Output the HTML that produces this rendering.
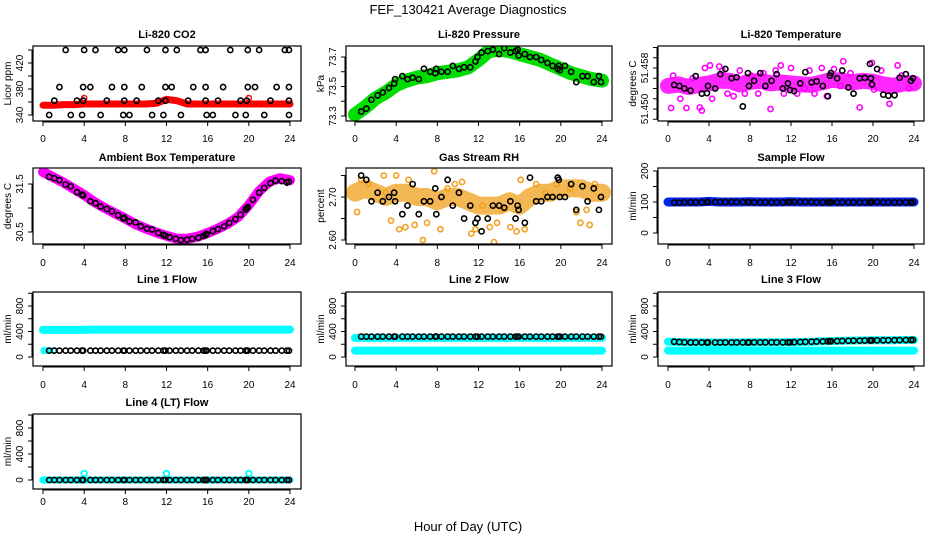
<!DOCTYPE html>
<html><head><meta charset="utf-8"><style>
body{margin:0;background:#fff}
svg{display:block;font-family:"Liberation Sans",Helvetica,Arial,sans-serif}
.tt{font-size:11px;font-weight:bold;text-anchor:middle}
.tk{font-size:10px;text-anchor:middle}
</style></head><body>
<svg id="chart" width="936" height="540" viewBox="0 0 936 540" xmlns="http://www.w3.org/2000/svg">
<rect width="936" height="540" fill="#fff"/>
<text x="468" y="14" font-size="13" text-anchor="middle">FEF_130421  Average Diagnostics</text>
<text x="468" y="531" font-size="13" text-anchor="middle">Hour of Day (UTC)</text>
</svg>
<script>
// ---- data ----
const xTicks = [0,4,8,12,16,20,24];
const T = [0.6,1.1,1.6,2.2,2.7,3.3,3.8,3.9,4.6,5.1,5.6,6.2,6.7,7.3,7.8,7.9,8.4,9.0,9.5,10.1,10.6,11.2,11.7,11.9,12.3,12.9,13.4,14.0,14.5,15.1,15.6,15.8,15.9,16.5,17.0,17.6,18.1,18.7,19.2,19.7,19.8,19.9,20.4,21.0,21.5,22.1,22.6,23.2,23.7,23.9];
const BT = [0,1,2,3,4,5,6,7,8,9,10,11,12,13,14,15,16,17,18,19,20,21,22,23,24];

const co2BlackT = [2.2,4,5.1,7.3,7.9,10.1,11.9,13,15.3,15.8,18.2,19.9,21,23.5,23.9, 1.6,3.9,4.6,6.7,7.9,9.6,11.9,12.5,14.6,15.8,17.5,19.9,20.6,22.7,23.9, 1.1,3.3,3.9,6.2,7.9,9.1,11.2,11.9,14.1,15.8,17,19.2,19.8,22.1,23.9, 0.6,2.7,3.8,5.6,7.8,8.4,10.6,11.7,13.4,15.9,16.5,18.7,19.7,21.5,23.9];
const co2BlackV = [440,440,440,440,440,440,440,440,440,440,440,440,440,440,440, 383,383,383,383,383,383,383,383,383,383,383,383,383,383,383, 362,362,362,362,362,362,362,362,362,362,362,362,362,362,362, 340,340,340,340,340,340,340,340,340,340,340,340,340,340,340];
const co2Band = [355,355,356,356,357,357,357,357,357,357,357,358,364,362,357,357,357,357,357,357,357,357,357,357,357];
const co2RedT = [4.0,20.0];
const co2RedV = [366,366];

const presBand = [73.31,73.36,73.42,73.46,73.51,73.54,73.56,73.57,73.59,73.6,73.61,73.63,73.68,73.74,73.75,73.74,73.72,73.7,73.68,73.65,73.62,73.59,73.57,73.55,73.54];
const presBlack = [73.33,73.35,73.41,73.44,73.46,73.49,73.52,73.55,73.57,73.55,73.56,73.55,73.62,73.6,73.59,73.62,73.6,73.6,73.64,73.62,73.63,73.63,73.67,73.7,73.73,73.74,73.75,73.72,73.76,73.73,73.74,73.75,73.71,73.72,73.7,73.7,73.68,73.66,73.64,73.62,73.64,73.61,73.64,73.6,73.53,73.57,73.57,73.53,73.57,73.53];

const tempBand = [51.4545,51.4548,51.4543,51.4547,51.4550,51.4555,51.4555,51.4548,51.4553,51.4555,51.4550,51.4552,51.4550,51.4548,51.4547,51.4552,51.4557,51.4555,51.4552,51.4555,51.4553,51.4548,51.4545,51.4550,51.4550];
const tempMagT = [0.3,0.5,1.2,1.8,2.4,3.1,3.3,3.6,4.1,4.3,5.0,5.3,5.8,6.4,7.0,7.5,8.1,8.8,9.3,10.0,10.5,11.0,11.3,12.0,12.6,13.3,13.8,14.3,15.0,15.5,16.2,16.8,17.1,17.8,18.7,19.3,19.9,20.1,20.8,21.6,22.4,22.8,23.5];
const tempMagV = [51.4502,51.4565,51.4520,51.4502,51.4560,51.4503,51.4497,51.4580,51.4585,51.4520,51.4583,51.4575,51.4530,51.4525,51.4575,51.4530,51.4565,51.4530,51.4570,51.4500,51.4575,51.4585,51.4530,51.4580,51.4530,51.4540,51.4575,51.4530,51.4580,51.4525,51.4578,51.4545,51.4593,51.4570,51.4503,51.4560,51.4590,51.4538,51.4575,51.4510,51.4585,51.4565,51.4540];
const tempBlack = [51.4547,51.4545,51.4540,51.4536,51.4564,51.4530,51.4531,51.4545,51.4540,51.4568,51.4578,51.4560,51.4562,51.4505,51.4570,51.4545,51.4555,51.4570,51.4545,51.4555,51.4568,51.4540,51.4550,51.4537,51.4535,51.4550,51.4572,51.4552,51.4554,51.4545,51.4525,51.4565,51.4570,51.4560,51.4575,51.4542,51.4530,51.4560,51.4561,51.4588,51.4560,51.4548,51.4578,51.4528,51.4526,51.4527,51.4561,51.4568,51.4555,51.4560];

const ambBand = [31.75,31.64,31.53,31.40,31.27,31.12,31.00,30.89,30.78,30.66,30.57,30.49,30.42,30.36,30.36,30.40,30.48,30.57,30.68,30.82,31.06,31.35,31.55,31.62,31.58];
const ambBlack = [31.65,31.62,31.58,31.49,31.45,31.33,31.28,31.26,31.14,31.10,31.03,30.98,30.93,30.85,30.78,30.8,30.72,30.7,30.62,30.57,30.55,30.48,30.44,30.42,30.39,30.36,30.33,30.34,30.36,30.38,30.42,30.44,30.46,30.52,30.56,30.62,30.69,30.77,30.86,30.97,31.0,31.02,31.17,31.32,31.42,31.52,31.57,31.56,31.53,31.55];

const rhBand = [2.71,2.72,2.71,2.70,2.71,2.71,2.70,2.70,2.69,2.70,2.70,2.69,2.68,2.68,2.68,2.69,2.68,2.70,2.71,2.71,2.72,2.72,2.72,2.71,2.71];
const rhOrT = [0.2,0.6,0.9,1.3,2.2,2.8,3.0,3.5,4.0,4.3,4.9,5.2,5.8,6.6,7.0,7.7,8.3,9.0,9.7,10.4,11.3,11.7,12.4,13.1,13.5,13.8,14.3,15.1,15.7,16.1,16.5,17.6,18.5,19.6,20.9,21.5,21.9,22.5,22.8,23.1,23.3];
const rhOrV = [2.665,2.74,2.78,2.73,2.78,2.75,2.71,2.645,2.75,2.625,2.63,2.74,2.635,2.60,2.64,2.76,2.625,2.72,2.73,2.735,2.615,2.625,2.68,2.63,2.595,2.64,2.67,2.63,2.62,2.74,2.625,2.73,2.71,2.73,2.72,2.665,2.64,2.67,2.635,2.775,2.73];
const rhBlack = [2.75,2.74,2.69,2.71,2.69,2.70,2.71,2.69,2.66,2.68,2.73,2.66,2.69,2.69,2.72,2.66,2.70,2.74,2.68,2.71,2.65,2.68,2.64,2.65,2.62,2.65,2.68,2.68,2.675,2.69,2.65,2.68,2.67,2.64,2.745,2.69,2.69,2.70,2.70,2.745,2.74,2.70,2.70,2.73,2.67,2.725,2.69,2.72,2.67,2.70];

const sfBand = [100,100,100,100,102,100,100,100,101,100,100,100,101,100,100,100,100,100,100,100,100,100,100,100,100];
const sfBlack = [98,98,99,99,99,99,100,100,100,100,100,100,100,100,100,100,99,99,99,99,99,99,100,100,100,100,100,100,99,99,99,99,99,99,99,99,99,99,99,99,100,100,100,99,99,99,99,99,99,100];

const l1CyanHi = [425,425,425,425,425,430,430,430,430,430,430,430,430,430,430,430,430,430,430,430,430,430,430,430,430];
const l1CyanLowT = [0.1,0.3,0.5,1.0];
const l1CyanLowV = [100,100,100,100];
const l1Black = [100,100,100,100,100,100,100,100,100,100,100,100,100,100,100,100,100,100,100,100,100,100,100,100,100,100,100,100,100,100,100,100,100,100,100,100,100,100,100,100,100,100,100,100,100,100,100,100,100,100];

const l2CyanHi = [300,300,300,300,300,300,300,300,300,300,300,300,300,300,300,300,300,300,300,300,300,300,300,300,300];
const l2CyanLo = [100,100,100,100,100,100,100,100,100,100,100,100,100,100,100,100,100,100,100,100,100,100,100,100,100];
const l2Black = [320,320,320,320,320,320,320,320,320,320,320,320,320,320,320,320,320,320,320,320,320,320,320,320,320,320,320,320,320,320,320,320,320,320,320,320,320,320,320,320,320,320,320,320,320,320,320,320,320,320];

const l3CyanHi = [240,235,230,228,228,228,228,228,230,230,230,230,232,235,240,245,250,255,258,260,262,262,264,266,268];
const l3CyanLo = [100,100,100,100,100,100,100,100,100,100,100,100,100,100,100,100,100,100,100,100,100,100,100,100,100];
const l3Black = [240,235,230,228,228,228,228,228,228,228,228,228,228,228,228,228,230,230,230,230,230,230,230,230,232,235,238,240,242,245,246,247,248,250,252,255,256,257,258,260,260,260,262,262,263,264,265,266,267,268];

const l4Cyan = [0,0,0,0,0,0,0,0,0,0,0,0,0,0,0,0,0,0,0,0,0,0,0,0,0];
const l4SpikeT = [4,12,20];
const l4SpikeV = [100,100,100];
const l4Black = [0,0,0,0,0,0,0,0,0,0,0,0,0,0,0,0,0,0,0,0,0,0,0,0,0,0,0,0,0,0,0,0,0,0,0,0,0,0,0,0,0,0,0,0,0,0,0,0,0,0];

// ---- drawing ----
const svg = document.getElementById('chart');
const NS = 'http://www.w3.org/2000/svg';
function mk(tag, attrs, parent){const e=document.createElementNS(NS,tag);for(const k in attrs)e.setAttribute(k,attrs[k]);(parent||svg).appendChild(e);return e;}

const cols = [{l:33,r:301,x0:43,x1:290},{l:346,r:612,x0:355,x1:602},{l:658,r:924,x0:668,x1:914}];
const rows = [{t:46,b:121,title:34,lab:138},{t:168,b:244,title:157,lab:262},{t:292,b:366,title:279,lab:384},{t:414,b:489,title:402,lab:501}];

function panel(name, ci, ri, title, ylab, v1, p1, v2, p2, yTicks, yLabels){
  const c=cols[ci], r=rows[ri];
  const g=mk('g',{});
  
  
  const xs=t=>c.x0+(t/24)*(c.x1-c.x0);
  const ys=v=>p1+(v-v1)*(p2-p1)/(v2-v1);
  const tt=mk('text',{x:(c.l+c.r)/2,y:r.title+4,class:'tt'},g); tt.textContent=title;
  
  
  const clip=mk('clipPath',{id:'clip-'+name},g);
  mk('rect',{x:c.l,y:r.t,width:c.r-c.l,height:r.b-r.t},clip);
  const plot=mk('g',{'clip-path':'url(#clip-'+name+')'},g);
  const bx=mk('rect',{x:c.l,y:r.t,width:c.r-c.l,height:r.b-r.t,fill:'none',stroke:'#000','stroke-width':1.2},g);
  
  
  const xa=mk('g',{},g);
  
  
  mk('line',{x1:xs(0),x2:xs(24),y1:r.b+1,y2:r.b+1,stroke:'#000'},xa);
  xTicks.forEach(t=>{mk('line',{x1:xs(t),x2:xs(t),y1:r.b,y2:r.b+5,stroke:'#000'},xa);
    const tx=mk('text',{x:xs(t),y:r.lab+4,class:'tk'},xa);tx.textContent=String(t);});
  const ya=mk('g',{},g);
  
  
  mk('line',{x1:c.l-1,x2:c.l-1,y1:ys(yTicks[0]),y2:ys(yTicks[yTicks.length-1]),stroke:'#000'},ya);
  yTicks.forEach((v,i)=>{const y=ys(v);mk('line',{x1:c.l-5,x2:c.l,y1:y,y2:y,stroke:'#000'},ya);
    if(yLabels[i]){const tx=mk('text',{x:c.l-10,y:y,class:'tk',transform:`rotate(-90 ${c.l-10} ${y})`},ya);tx.textContent=yLabels[i];}});
  const yt=mk('text',{x:c.l-22,y:(r.t+r.b)/2,class:'tk','font-size':'10',transform:`rotate(-90 ${c.l-22} ${(r.t+r.b)/2})`},g);
  yt.textContent=ylab;
  
  
  return {plot,xs,ys};
}
function band(P, name, ts, vs, color, w, op){
  const pts=ts.map((t,i)=>P.xs(t).toFixed(1)+','+P.ys(vs[i]).toFixed(1)).join(' ');
  const e=mk('polyline',{points:pts,fill:'none',stroke:color,'stroke-width':w,'stroke-linejoin':'round','stroke-linecap':'round','stroke-opacity':op||1},P.plot);
  
  
}
function pts(P, name, ts, vs, color, rr, sw){
  const g=mk('g',{},P.plot);
  
  
  const n=Math.min(ts.length,vs.length);
  for(let i=0;i<n;i++){const c=mk('circle',{cx:P.xs(ts[i]),cy:P.ys(vs[i]),r:rr,fill:'none',stroke:color,'stroke-width':sw},g);
    
    }
}

let P;
P=panel('co2',0,0,'Li-820 CO2','Licor ppm',340,115,420,63,[340,360,380,400,420,440],['340','','380','','420','']);
band(P,'co2-red-band',BT,co2Band,'#ff0000',7);
pts(P,'co2-red-points',co2RedT,co2RedV,'#ff0000',2.6,1.4);
pts(P,'co2-black-points',co2BlackT,co2BlackV,'#000',2.6,1.6);

P=panel('pressure',1,0,'Li-820 Pressure','kPa',73.3,116,73.7,57,[73.3,73.4,73.5,73.6,73.7],['73.3','','73.5','','73.7']);
band(P,'pressure-green-band',BT,presBand,'#00dd00',14);
pts(P,'pressure-black-points',T,presBlack,'#000',2.6,1.6);

P=panel('li820-temp',2,0,'Li-820 Temperature','degrees C',51.450,109,51.458,68,[51.448,51.450,51.452,51.454,51.456,51.458,51.460,51.462],['','51.450','','','','51.458','','']);
band(P,'temp-magenta-band',BT,tempBand,'#ff00ff',16,0.85);
pts(P,'temp-magenta-points',tempMagT,tempMagV,'#ff00ff',2.6,1.6);
pts(P,'temp-black-points',T,tempBlack,'#000',2.6,1.6);

P=panel('ambient',0,1,'Ambient Box Temperature','degrees C',30.5,232,31.5,184,[30.5,31.0,31.5],['30.5','','31.5']);
band(P,'ambient-magenta-band',BT,ambBand,'#ff00ff',10);
pts(P,'ambient-black-points',T,ambBlack,'#000',2.6,1.6);

P=panel('rh',1,1,'Gas Stream RH','percent',2.60,240,2.70,197,[2.60,2.65,2.70,2.75],['2.60','','2.70','']);
band(P,'rh-orange-band',BT,rhBand,'#f2b040',18,0.9);
pts(P,'rh-orange-points',rhOrT,rhOrV,'#f2a020',2.6,1.6);
pts(P,'rh-black-points',T,rhBlack,'#000',2.6,1.6);

P=panel('sample-flow',2,1,'Sample Flow','ml/min',0,233,200,171,[0,50,100,150,200],['0','','100','','200']);
band(P,'sample-flow-blue-band',BT,sfBand,'#0022ee',9);
pts(P,'sample-flow-black-points',T,sfBlack,'#000',2.6,1.6);

const fT=[0,200,400,600,800,1000], fL=['0','','400','','800',''];
P=panel('line1',0,2,'Line 1 Flow','ml/min',0,357,800,306,fT,fL);
band(P,'line1-cyan-band',BT,l1CyanHi,'#00ffff',8);
pts(P,'line1-cyan-low-points',l1CyanLowT,l1CyanLowV,'#00ffff',2.6,1.8);
pts(P,'line1-black-points',T,l1Black,'#000',2.6,1.6);

P=panel('line2',1,2,'Line 2 Flow','ml/min',0,357,800,306,fT,fL);
band(P,'line2-cyan-high-band',BT,l2CyanHi,'#00ffff',8);
band(P,'line2-cyan-low-band',BT,l2CyanLo,'#00ffff',8);
pts(P,'line2-black-points',T,l2Black,'#000',2.6,1.6);

P=panel('line3',2,2,'Line 3 Flow','ml/min',0,357,800,306,fT,fL);
band(P,'line3-cyan-high-band',BT,l3CyanHi,'#00ffff',8);
band(P,'line3-cyan-low-band',BT,l3CyanLo,'#00ffff',8);
pts(P,'line3-black-points',T,l3Black,'#000',2.6,1.6);

P=panel('line4',0,3,'Line 4 (LT) Flow','ml/min',0,480,800,428,fT,fL);
band(P,'line4-cyan-band',BT,l4Cyan,'#00ffff',7);
pts(P,'line4-cyan-spikes',l4SpikeT,l4SpikeV,'#00ffff',2.8,1.8);
pts(P,'line4-black-points',T,l4Black,'#000',2.6,1.6);
</script>
</body></html>
